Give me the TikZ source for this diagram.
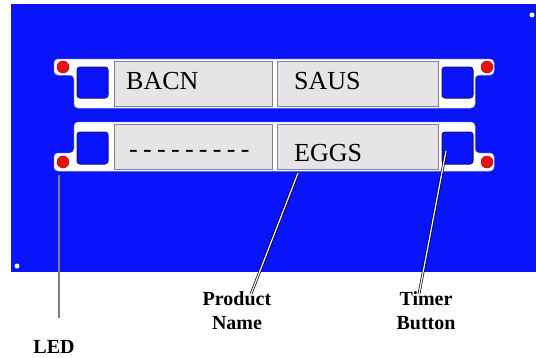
\documentclass[tikz,border=0pt]{standalone}
\usepackage{fontspec}
\setmainfont{Liberation Serif}
\usetikzlibrary{positioning}

\definecolor{panelblue}{RGB}{10,20,250}
\definecolor{navy}{RGB}{20,20,110}
\definecolor{boxgrey}{RGB}{230,228,230}
\definecolor{boxedge}{RGB}{130,130,150}
\definecolor{ledred}{RGB}{232,16,24}

\tikzset{
  frame/.style={fill=white, draw=boxedge!60, line width=0.5pt, rounded corners=4pt},
  namebox/.style={fill=boxgrey, draw=boxedge, line width=0.8pt},
  button/.style={fill=panelblue, draw=navy, line width=1pt, rounded corners=3pt},
  led/.style={circle, fill=ledred, draw=ledred!70!black, line width=0.5pt, minimum size=12pt, inner sep=0pt},
  itemtext/.style={font=\fontsize{26}{30}\selectfont, inner sep=0pt},
  callout/.style={font=\fontsize{20}{24}\selectfont\bfseries, align=center, inner sep=0pt},
  leader/.style={draw=black, line width=0.7pt, double=white, double distance=1.2pt}
}

\begin{document}
\begin{tikzpicture}[x=1pt,y=-1pt]
\useasboundingbox (0,0) rectangle (536,357);
% panel
\fill[panelblue] (11,4) rectangle (536,272);
\fill[white] (532,15) circle (2.5pt);
\fill[white] (17,266) circle (2.5pt);

% upper row
\draw[frame] (54,59) -- (494,59) -- (494,75) -- (475,75) -- (475,108) -- (74,108) -- (74,75) -- (54,75) -- cycle;
\draw[namebox] (114,61) rectangle (272,106);
\draw[namebox] (277,61) rectangle (438,106);
\draw[button] (77,67) rectangle (108,98);
\draw[button] (442,67) rectangle (473,98);
\node[led] (led1) at (63,67) {};
\node[led] (led2) at (487,67) {};
\node[itemtext, anchor=base west] (bacn) at (126,89) {BACN};
\node[itemtext, anchor=base west] (saus) at (294,89) {SAUS};

% lower row
\draw[frame] (74,122) -- (475,122) -- (475,153) -- (494,153) -- (494,171) -- (54,171) -- (54,153) -- (74,153) -- cycle;
\draw[namebox] (114,124) rectangle (272,169);
\draw[namebox] (277,124) rectangle (438,169);
\draw[button] (77,132) rectangle (108,164);
\draw[button] (442,132) rectangle (473,164);
\node[led] (led3) at (63,162) {};
\node[led] (led4) at (487,162) {};
\node[itemtext, anchor=base west] (blank) at (129,157)
  {-\kern5.3pt-\kern5.3pt-\kern5.3pt-\kern5.3pt-\kern5.3pt-\kern5.3pt-\kern5.3pt-\kern5.3pt-};
\node[itemtext, anchor=base west] (eggs) at (294,161) {EGGS};

% callouts
\node[callout, anchor=base] (ledlabel) at (54,353) {LED};
\node[callout, anchor=base] (namelabel) at (237,329) {Product\\Name};
\node[callout, anchor=base] (timerlabel) at (426,329) {Timer\\Button};

\coordinate (ledfoot) at (59,175);
\coordinate (namefoot) at (298,173);
\coordinate (timerfoot) at (446,151);
\coordinate (ledend) at (59,318);
\coordinate (nameend) at (251,294);
\coordinate (timerend) at (419,294);

\draw[leader, double=gray] (ledfoot) -- (ledend);
\draw[leader] (namefoot) -- (nameend);
\draw[leader] (timerfoot) -- (timerend);
\end{tikzpicture}
\end{document}
